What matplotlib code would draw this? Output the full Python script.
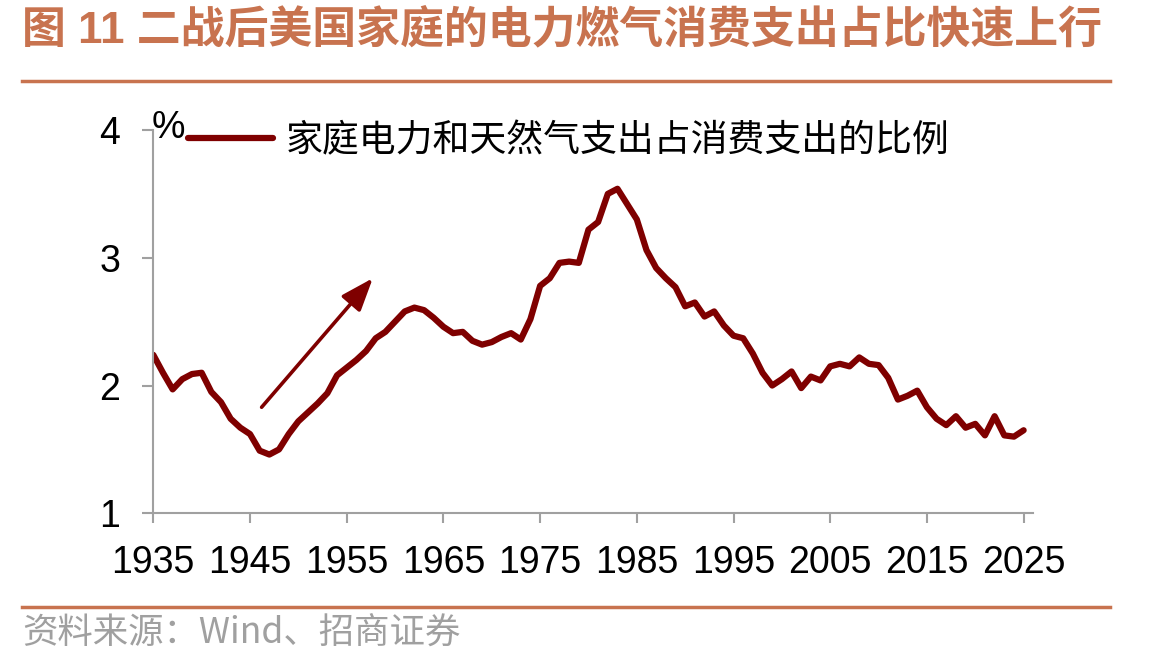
import numpy as np
import matplotlib.pyplot as plt
from matplotlib.lines import Line2D

plt.rcParams['font.family'] = ['Liberation Sans', 'Noto Sans CJK SC', 'DejaVu Sans']

TITLE = '图 11 二战后美国家庭的电力燃气消费支出占比快速上行'
SOURCE = '资料来源：Wind、招商证券'
LABEL = '家庭电力和天然气支出占消费支出的比例'

years = np.arange(1935, 2026)
share = [2.24, 2.10, 1.97, 2.05, 2.09, 2.10, 1.95, 1.87, 1.74, 1.67,   # 1935-44
         1.62, 1.49, 1.46, 1.50, 1.62, 1.72, 1.79, 1.86, 1.94, 2.08,   # 1945-54
         2.14, 2.20, 2.27, 2.37, 2.42, 2.50, 2.58, 2.61, 2.59, 2.53,   # 1955-64
         2.46, 2.41, 2.42, 2.35, 2.32, 2.34, 2.38, 2.41, 2.36, 2.52,   # 1965-74
         2.78, 2.84, 2.96, 2.97, 2.96, 3.22, 3.28, 3.50, 3.54, 3.42,   # 1975-84
         3.30, 3.06, 2.92, 2.84, 2.77, 2.62, 2.65, 2.54, 2.58, 2.47,   # 1985-94
         2.39, 2.37, 2.25, 2.10, 2.00, 2.05, 2.11, 1.98, 2.07, 2.04,   # 1995-04
         2.15, 2.17, 2.15, 2.22, 2.17, 2.16, 2.06, 1.89, 1.92, 1.96,   # 2005-14
         1.83, 1.74, 1.69, 1.76, 1.67, 1.70, 1.61, 1.76, 1.61, 1.60,   # 2015-24
         1.65]                                                          # 2025
xticks = list(range(1935, 2026, 10))
yticks = [1, 2, 3, 4]
arrow_from = (1946.2, 1.83)
arrow_to = (1957.7, 2.84)

RED = '#7f0000'
ORANGE = '#c8734f'
GRAY = '#a0a0a0'

fig = plt.figure(figsize=(11.54, 6.67), dpi=100)
ax = fig.add_axes([153.3/1154, 1-513.3/667, (1033.3-153.3)/1154, (513.3-130)/667])

ax.plot(years, share, color=RED, lw=4.5, solid_joinstyle='round',
        solid_capstyle='round', label=LABEL)
ax.annotate('', xy=arrow_to, xytext=arrow_from,
            arrowprops=dict(arrowstyle='-|>,head_length=2.0,head_width=0.75',
                            color=RED, lw=2.6, shrinkA=0, shrinkB=0))

ax.set_xlim(1935, 2026)
ax.set_ylim(1, 4)
ax.set_xticks(xticks)
ax.set_yticks(yticks)
for s in ['top', 'right']:
    ax.spines[s].set_visible(False)
for s in ['left', 'bottom']:
    ax.spines[s].set_color(GRAY)
    ax.spines[s].set_linewidth(1.5)
ax.tick_params(axis='x', direction='out', length=7.5, width=1.5, color=GRAY,
               labelsize=27, pad=15)
ax.tick_params(axis='y', direction='out', length=8, width=1.5, color=GRAY,
               labelsize=27, pad=16)

fig.text(152/1154, 1-128/667, '%', fontsize=27, va='center', ha='left')
ax.legend(loc='center left', bbox_to_anchor=(188/1154, 1-140.7/667),
          bbox_transform=fig.transFigure, frameon=False, borderpad=0,
          borderaxespad=0, handlelength=2.3, handletextpad=0.35,
          prop={'family': ['Noto Sans CJK SC'], 'size': 26.6})

fig.text(22/1154, 1-30/667, TITLE, fontsize=31.6, fontweight='bold', color=ORANGE,
         va='center', ha='left', family=['Liberation Sans', 'Noto Sans CJK SC'])
fig.add_artist(Line2D([22/1154, 1110/1154], [1-81/667]*2, color=ORANGE, lw=2.5))
fig.add_artist(Line2D([22/1154, 1110/1154], [1-607/667]*2, color=ORANGE, lw=2.5))
fig.text(22/1154, 1-634/667, SOURCE, fontsize=25.5, color=GRAY, va='center',
         ha='left', family=['Noto Sans CJK SC', 'Liberation Sans'])

fig.savefig('out.png', dpi=100)
